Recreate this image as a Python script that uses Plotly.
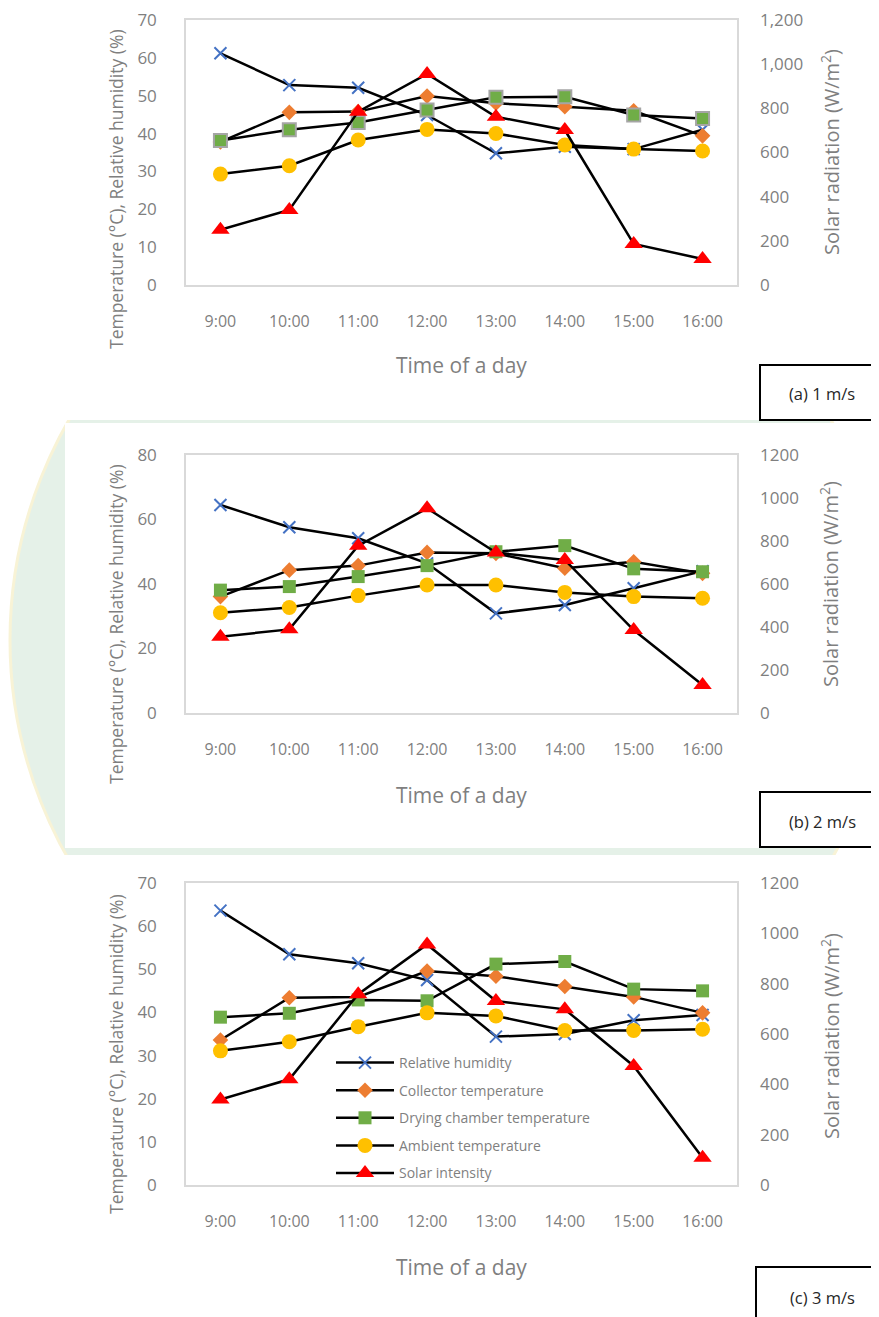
import plotly.graph_objects as go

# The page body has an 8px default margin; the figure is sized to fit the window.
OFF = 8
W, H = 879 - OFF, 1317 - OFF

times = ["9:00", "10:00", "11:00", "12:00", "13:00", "14:00", "15:00", "16:00"]

# Panel (a) 1 m/s
rh_a = [61.2, 52.8, 52.1, 44.9, 34.8, 36.5, 35.9, 41.0]
col_a = [37.8, 45.6, 45.8, 49.9, 48.0, 47.1, 46.0, 39.4]
dry_a = [38.2, 41.0, 42.9, 46.2, 49.6, 49.7, 44.9, 44.0]
amb_a = [29.3, 31.5, 38.3, 41.1, 40.0, 37.0, 35.9, 35.4]
sol_a = [250, 340, 785, 956, 762, 702, 186, 118]

# Panel (b) 2 m/s
rh_b = [64.5, 57.6, 54.2, 46.4, 30.9, 33.5, 38.7, 44.0]
col_b = [36.1, 44.3, 45.7, 49.8, 49.5, 44.9, 46.9, 43.3]
dry_b = [38.1, 39.2, 42.3, 45.7, 50.0, 51.9, 44.7, 43.8]
amb_b = [31.1, 32.7, 36.4, 39.7, 39.7, 37.4, 36.1, 35.6]
sol_b = [355, 389, 778, 952, 746, 712, 386, 130]

# Panel (c) 3 m/s
rh_c = [63.6, 53.5, 51.4, 47.5, 34.4, 35.0, 38.2, 39.4]
col_c = [33.6, 43.4, 43.6, 49.6, 48.4, 46.0, 43.6, 39.9]
dry_c = [38.9, 39.8, 42.9, 42.7, 51.2, 51.8, 45.4, 45.0]
amb_c = [31.1, 33.2, 36.7, 39.9, 39.2, 35.8, 35.8, 36.1]
sol_c = [340, 420, 758, 956, 731, 698, 473, 108]

series_names = ["Relative humidity", "Collector temperature", "Drying chamber temperature",
                "Ambient temperature", "Solar intensity"]
panel_labels = ["(a) 1 m/s", "(b) 2 m/s", "(c) 3 m/s"]
left_max = [70, 80, 70]
left_dtick = [10, 20, 10]
right_fmt = [",d", "d", "d"]

panels = [
    (rh_a, col_a, dry_a, amb_a, sol_a),
    (rh_b, col_b, dry_b, amb_b, sol_b),
    (rh_c, col_c, dry_c, amb_c, sol_c),
]

def xp(px):
    return (px - OFF) / W

def yp(py):
    return 1 - (py - OFF) / H

# plot area (top, bottom) in window pixels for each panel
areas = [(20, 285), (455, 713), (883, 1185)]
x_left, x_right = 186, 737

TICK = "#7f7f7f"
TITLE = "#7f7f7f"
FONT = "Open Sans"
LINE = dict(color="black", width=2.5)

fig = go.Figure()

markers = [
    dict(symbol="x-thin", size=12, line=dict(color="#4472C4", width=2), color="#4472C4"),
    dict(symbol="diamond", size=12, color="#ED7D31"),
    dict(symbol="square", size=13, color="#70AD47"),
    dict(symbol="circle", size=15, color="#FFC000"),
    dict(symbol="triangle-up", size=16, color="#FF0000"),
]

layout_axes = {}
for i, data in enumerate(panels):
    xa = "x" if i == 0 else f"x{i+1}"
    yl = "y" if i == 0 else f"y{2*i+1}"
    yr = f"y{2*i+2}"
    for k, (vals, name) in enumerate(zip(data, series_names)):
        mk = dict(markers[k])
        if i == 0 and k == 2:
            mk["line"] = dict(color="#A5A5A5", width=2)
        fig.add_trace(go.Scatter(
            x=times, y=vals, name=name, mode="lines+markers",
            line=LINE, marker=mk,
            xaxis=xa, yaxis=(yr if k == 4 else yl),
            showlegend=(i == 2), legendgroup=f"g{k}",
        ))
    top, bot = areas[i]
    xkey = "xaxis" if i == 0 else f"xaxis{i+1}"
    ylkey = "yaxis" if i == 0 else f"yaxis{2*i+1}"
    yrkey = f"yaxis{2*i+2}"
    layout_axes[xkey] = dict(
        domain=[xp(x_left), xp(x_right)], anchor=yl, type="category", automargin=False,
        range=[-0.5, 7.5], showline=True, mirror=True, linecolor="#d9d9d9", linewidth=1.5,
        showgrid=False, ticks="", ticklabelstandoff=21, ticklabeloverflow="allow",
        tickfont=dict(family=FONT, size=16, color=TICK),
    )
    layout_axes[ylkey] = dict(
        domain=[yp(bot), yp(top)], anchor=xa, range=[0, left_max[i]], dtick=left_dtick[i],
        automargin=False, ticklabeloverflow="allow",
        showline=True, mirror=True, linecolor="#d9d9d9", linewidth=1.5,
        showgrid=False, zeroline=False, ticks="", ticklabelstandoff=24,
        tickfont=dict(family=FONT, size=17, color=TICK),
    )
    layout_axes[yrkey] = dict(
        domain=[yp(bot), yp(top)], anchor=xa, overlaying=yl, side="right",
        range=[0, 1200], dtick=200, tickformat=right_fmt[i], automargin=False,
        ticklabeloverflow="allow",
        showline=False, showgrid=False, zeroline=False, ticks="", ticklabelstandoff=22,
        tickfont=dict(family=FONT, size=17, color=TICK),
    )

fig.update_layout(**layout_axes)

annotations = []
shapes = []

# background watermark-like circle
shapes.append(dict(type="circle", xref="paper", yref="paper", layer="below",
                   x0=xp(10), x1=xp(890), y0=yp(1080), y1=yp(200),
                   fillcolor="#e5f1e8", line=dict(color="#f8f3d6", width=3)))
# white chart areas
shapes.append(dict(type="rect", xref="paper", yref="paper", layer="below",
                   x0=xp(-5), x1=xp(890), y0=yp(420), y1=yp(-5),
                   fillcolor="white", line=dict(width=0)))
shapes.append(dict(type="rect", xref="paper", yref="paper", layer="below",
                   x0=xp(65), x1=xp(890), y0=yp(848), y1=yp(423),
                   fillcolor="white", line=dict(width=0)))
shapes.append(dict(type="rect", xref="paper", yref="paper", layer="below",
                   x0=xp(-5), x1=xp(890), y0=yp(1325), y1=yp(855),
                   fillcolor="white", line=dict(width=0)))

left_title_c = [189, 624, 1054]
right_title_c = [152, 584, 1036]
xtitle_y = [365, 795, 1267]
box_y = [(365, 420), (792, 847), (1267, 1330)]
box_text_y = [393, 821, 1297]
box_x0 = [760, 760, 756]

for i in range(3):
    annotations.append(dict(
        text="Temperature (°C), Relative humidity (%)", textangle=-90,
        x=xp(116), y=yp(left_title_c[i]), xref="paper", yref="paper",
        xanchor="center", yanchor="middle", showarrow=False,
        font=dict(family=FONT, size=17.5, color=TITLE)))
    annotations.append(dict(
        text="Solar radiation (W/m<sup>2</sup>)", textangle=-90,
        x=xp(830), y=yp(right_title_c[i]), xref="paper", yref="paper",
        xanchor="center", yanchor="middle", showarrow=False,
        font=dict(family=FONT, size=20, color=TITLE)))
    annotations.append(dict(
        text="Time of a day", x=xp(461), y=yp(xtitle_y[i]), xref="paper", yref="paper",
        xanchor="center", yanchor="middle", showarrow=False,
        font=dict(family=FONT, size=21, color=TITLE)))
    y0, y1 = box_y[i]
    shapes.append(dict(type="rect", xref="paper", yref="paper",
                       x0=xp(box_x0[i]), x1=xp(895), y0=yp(y1), y1=yp(y0),
                       fillcolor="white", line=dict(color="black", width=2)))
    annotations.append(dict(
        text=panel_labels[i], x=xp(822), y=yp(box_text_y[i]), xref="paper", yref="paper",
        xanchor="center", yanchor="middle", showarrow=False,
        font=dict(family=FONT, size=16.5, color="#262626")))

fig.update_layout(
    width=W, height=H, margin=dict(l=0, r=0, t=0, b=0, autoexpand=False),
    paper_bgcolor="white", plot_bgcolor="rgba(0,0,0,0)",
    shapes=shapes, annotations=annotations,
    legend=dict(x=xp(331), y=yp(1047), xanchor="left", yanchor="top",
                bgcolor="rgba(0,0,0,0)", traceorder="grouped", tracegroupgap=6.4,
                itemwidth=58,
                font=dict(family=FONT, size=14, color="#7f7f7f")),
)

fig.write_html("out.html")
